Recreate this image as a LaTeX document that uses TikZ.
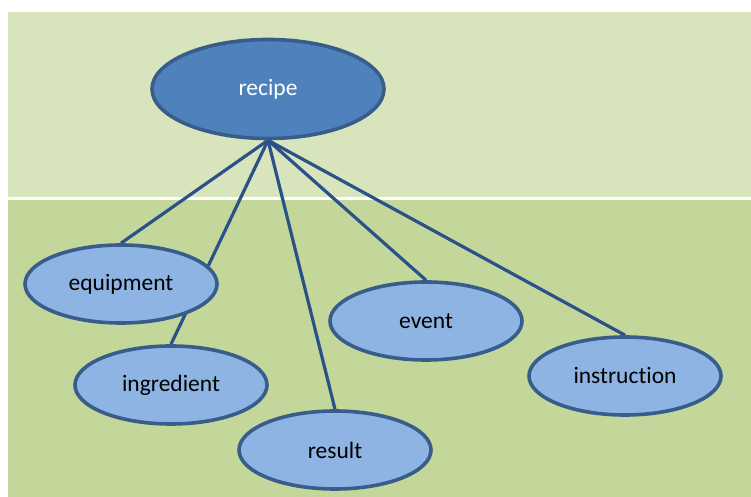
\documentclass[tikz,border=0pt]{standalone}
\usepackage{fontspec}
\setmainfont[RawFeature={-liga}]{Carlito}
\usetikzlibrary{shapes.geometric}
\pgfdeclarelayer{bands}
\pgfdeclarelayer{links}
\pgfsetlayers{bands,links,main}
\definecolor{bandtop}{HTML}{D8E4BC}
\definecolor{bandbot}{HTML}{C4D79B}
\definecolor{rootfill}{HTML}{4F81BD}
\definecolor{leaffill}{HTML}{8EB4E3}
\definecolor{rim}{HTML}{385D8A}
\definecolor{linkcol}{HTML}{2B5189}
\tikzset{
  oval/.style={ellipse, draw=rim, line width=3.6pt, inner sep=0pt,
    font=\fontsize{23.5}{27}\selectfont},
  rootoval/.style={oval, fill=rootfill, text=white,
    minimum width=232pt, minimum height=99pt},
  leafoval/.style={oval, fill=leaffill, text=black,
    minimum width=192pt, minimum height=78pt},
  link/.style={draw=linkcol, line width=3.2pt}
}
\begin{document}
\begin{tikzpicture}[x=1pt,y=1pt]
\useasboundingbox (0,0) rectangle (751,497);
% concept nodes
\node[rootoval] (recipe) at (268,408) {recipe};
\node[leafoval] (equipment) at (121,213) {equipment};
\node[leafoval] (ingredient) at (171,112) {ingredient};
\node[leafoval] (result) at (335,47) {result};
\node[leafoval] (event) at (426,176) {event};
\node[leafoval] (instruction) at (625,121) {instruction};
% two-tone backdrop
\begin{pgfonlayer}{bands}
  \fill[bandtop] (8,300) rectangle (751,485);
  \fill[bandbot] (8,0) rectangle (751,297);
\end{pgfonlayer}
% links from the root to each concept
\begin{pgfonlayer}{links}
  \foreach \leaf in {equipment,ingredient,result,event,instruction}
    \draw[link] (recipe.south) -- (\leaf.north);
\end{pgfonlayer}
\end{tikzpicture}
\end{document}
